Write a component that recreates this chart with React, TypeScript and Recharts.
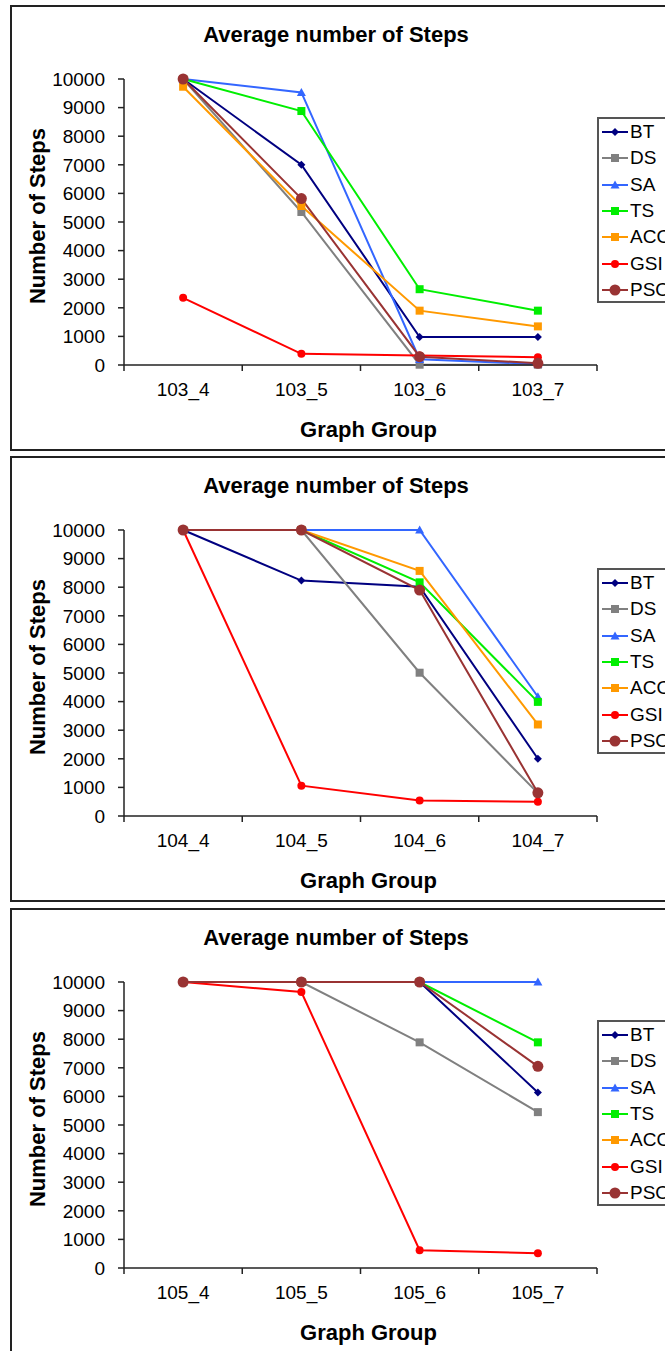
import { LineChart, Line, XAxis, YAxis, Legend } from 'recharts';

// Graph groups shown on the x axis of each panel
const groups103 = ['103_4', '103_5', '103_6', '103_7'];
const groups104 = ['104_4', '104_5', '104_6', '104_7'];
const groups105 = ['105_4', '105_5', '105_6', '105_7'];

// Average number of steps per algorithm, one entry per graph group
const steps103: Record<string, (number | null)[]> = {
  BT: [10000, 7000, 980, 980],
  DS: [10000, 5350, 10, 10],
  SA: [10000, 9530, 200, 35],
  TS: [10000, 8880, 2650, 1900],
  ACO: [9730, 5560, 1900, 1350],
  GSI: [2350, 390, 330, 270],
  PSO: [10000, 5820, 290, 60],
};

const steps104: Record<string, (number | null)[]> = {
  BT: [10000, 8230, 8020, 2000],
  DS: [10000, 10000, 5010, 800],
  SA: [10000, 10000, 10000, 4170],
  TS: [10000, 10000, 8170, 3990],
  ACO: [10000, 10000, 8570, 3200],
  GSI: [10000, 1060, 540, 500],
  PSO: [10000, 10000, 7900, 810],
};

const steps105: Record<string, (number | null)[]> = {
  BT: [10000, 10000, 10000, 6140],
  DS: [10000, 10000, 7890, 5450],
  SA: [10000, 10000, 10000, 10000],
  TS: [10000, 10000, 10000, 7890],
  ACO: [null, null, null, null],
  GSI: [10000, 9650, 620, 520],
  PSO: [10000, 10000, 10000, 7050],
};

const yTicks = [0, 1000, 2000, 3000, 4000, 5000, 6000, 7000, 8000, 9000, 10000];

type Shape = 'diamond' | 'square' | 'triangle' | 'circle';

const seriesStyles: { key: string; color: string; shape: Shape; size: number }[] = [
  { key: 'BT', color: '#000080', shape: 'diamond', size: 4 },
  { key: 'DS', color: '#808080', shape: 'square', size: 4 },
  { key: 'SA', color: '#3366FF', shape: 'triangle', size: 4.5 },
  { key: 'TS', color: '#00EE00', shape: 'square', size: 4 },
  { key: 'ACO', color: '#FF9900', shape: 'square', size: 4 },
  { key: 'GSI', color: '#FF0000', shape: 'circle', size: 4 },
  { key: 'PSO', color: '#993333', shape: 'circle', size: 5.5 },
];

const FONT = "'Liberation Sans', Arial, sans-serif";
const CHART_W = 690;
const CHART_H = 446;
const PLOT_W = 473;
const HALF_BAND = PLOT_W / 8;

function Marker({ cx, cy, shape, size, color }: { cx?: number; cy?: number; shape: Shape; size: number; color: string }) {
  if (cx == null || cy == null || Number.isNaN(cy)) return null;
  switch (shape) {
    case 'diamond':
      return <path d={`M${cx},${cy - size}L${cx + size},${cy}L${cx},${cy + size}L${cx - size},${cy}Z`} fill={color} />;
    case 'square':
      return <rect x={cx - size} y={cy - size} width={size * 2} height={size * 2} fill={color} />;
    case 'triangle':
      return <path d={`M${cx},${cy - size}L${cx + size},${cy + size * 0.8}L${cx - size},${cy + size * 0.8}Z`} fill={color} />;
    default:
      return <circle cx={cx} cy={cy} r={size} fill={color} />;
  }
}

function GroupTick(props: any) {
  const { x, y, payload, index, count } = props;
  return (
    <g>
      <line x1={x - HALF_BAND} x2={x - HALF_BAND} y1={y} y2={y + 6} stroke="#222" strokeWidth={1.5} />
      {index === count - 1 && (
        <line x1={x + HALF_BAND} x2={x + HALF_BAND} y1={y} y2={y + 6} stroke="#222" strokeWidth={1.5} />
      )}
      <text x={x} y={y + 24} dy="0.35em" textAnchor="middle" fontSize={19} fill="#000" fontFamily={FONT}>
        {payload.value}
      </text>
    </g>
  );
}

// Boxed legend on the right; it runs past the page edge, so the last letters get clipped
function LegendBox() {
  return (
    <div
      style={{
        border: '2px solid #555',
        background: '#fff',
        width: 90,
        height: 186,
        boxSizing: 'border-box',
        fontFamily: FONT,
        fontSize: 19,
        color: '#000',
      }}
    >
      {seriesStyles.map((s) => (
        <div key={s.key} style={{ display: 'flex', alignItems: 'center', height: 26.3 }}>
          <svg width={30} height={20} style={{ flex: 'none' }}>
            <line x1={3} x2={29} y1={10} y2={10} stroke={s.color} strokeWidth={2} />
            <Marker cx={16} cy={10} shape={s.shape} size={s.size} color={s.color} />
          </svg>
          <span style={{ marginLeft: 1, lineHeight: '20px' }}>{s.key}</span>
        </div>
      ))}
    </div>
  );
}

function StepsPanel({ top, groups, steps }: { top: number; groups: string[]; steps: Record<string, (number | null)[]> }) {
  const rows = groups.map((g, i) => {
    const row: Record<string, string | number | null> = { group: g };
    seriesStyles.forEach((s) => {
      row[s.key] = steps[s.key][i];
    });
    return row;
  });

  return (
    <>
      <div
        style={{
          position: 'absolute',
          left: 10,
          top,
          width: 700,
          height: CHART_H,
          boxSizing: 'border-box',
          border: '2px solid #222',
        }}
      />
      <div
        style={{
          position: 'absolute',
          left: 10,
          top: top + 17,
          width: 652,
          textAlign: 'center',
          fontFamily: FONT,
          fontWeight: 'bold',
          fontSize: 22,
          lineHeight: '26px',
          color: '#000',
        }}
      >
        Average number of Steps
      </div>
      <div style={{ position: 'absolute', left: 10, top }}>
        <LineChart width={CHART_W} height={CHART_H} data={rows} margin={{ top: 74, right: 103, bottom: 56, left: 0 }}>
          <XAxis
            dataKey="group"
            type="category"
            height={30}
            interval={0}
            padding={{ left: HALF_BAND, right: HALF_BAND }}
            tickLine={false}
            tickSize={0}
            tickMargin={0}
            axisLine={{ stroke: '#222', strokeWidth: 1.5 }}
            tick={(p: any) => <GroupTick {...p} count={groups.length} />}
            label={{
              content: ({ viewBox }: any) => (
                <text
                  x={viewBox.x + viewBox.width / 2 + 8}
                  y={viewBox.y + 64}
                  dy="0.35em"
                  textAnchor="middle"
                  fontSize={22}
                  fontWeight="bold"
                  fontFamily={FONT}
                  fill="#000"
                >
                  Graph Group
                </text>
              ),
            }}
          />
          <YAxis
            type="number"
            domain={[0, 10000]}
            ticks={yTicks}
            interval={0}
            width={114}
            tickSize={6}
            tickMargin={13}
            axisLine={{ stroke: '#222', strokeWidth: 1.5 }}
            tickLine={{ stroke: '#222', strokeWidth: 1.5 }}
            tick={{ fontSize: 19, fill: '#000', fontFamily: FONT }}
            label={{
              content: ({ viewBox }: any) => {
                const cx = viewBox.x + 27;
                const cy = viewBox.y + 137;
                return (
                  <text
                    x={cx}
                    y={cy}
                    dy="0.35em"
                    textAnchor="middle"
                    transform={`rotate(-90, ${cx}, ${cy})`}
                    fontSize={22}
                    fontWeight="bold"
                    fontFamily={FONT}
                    fill="#000"
                  >
                    Number of Steps
                  </text>
                );
              },
            }}
          />
          <Legend
            layout="vertical"
            align="center"
            verticalAlign="middle"
            content={() => <LegendBox />}
            wrapperStyle={{ left: 587, top: 112, width: 90, height: 186 }}
          />
          {seriesStyles.map((s) => (
            <Line
              key={s.key}
              dataKey={s.key}
              stroke={s.color}
              strokeWidth={2}
              isAnimationActive={false}
              activeDot={false}
              dot={(p: any) => (
                <Marker key={`${s.key}-${p.index}`} cx={p.cx} cy={p.cy} shape={s.shape} size={s.size} color={s.color} />
              )}
            />
          ))}
        </LineChart>
      </div>
    </>
  );
}

export default function App() {
  return (
    <div
      style={{
        position: 'absolute',
        left: 0,
        top: 0,
        width: 665,
        height: 1351,
        overflow: 'hidden',
        background: '#fff',
      }}
    >
      <StepsPanel top={5} groups={groups103} steps={steps103} />
      <StepsPanel top={456} groups={groups104} steps={steps104} />
      <StepsPanel top={908} groups={groups105} steps={steps105} />
    </div>
  );
}
